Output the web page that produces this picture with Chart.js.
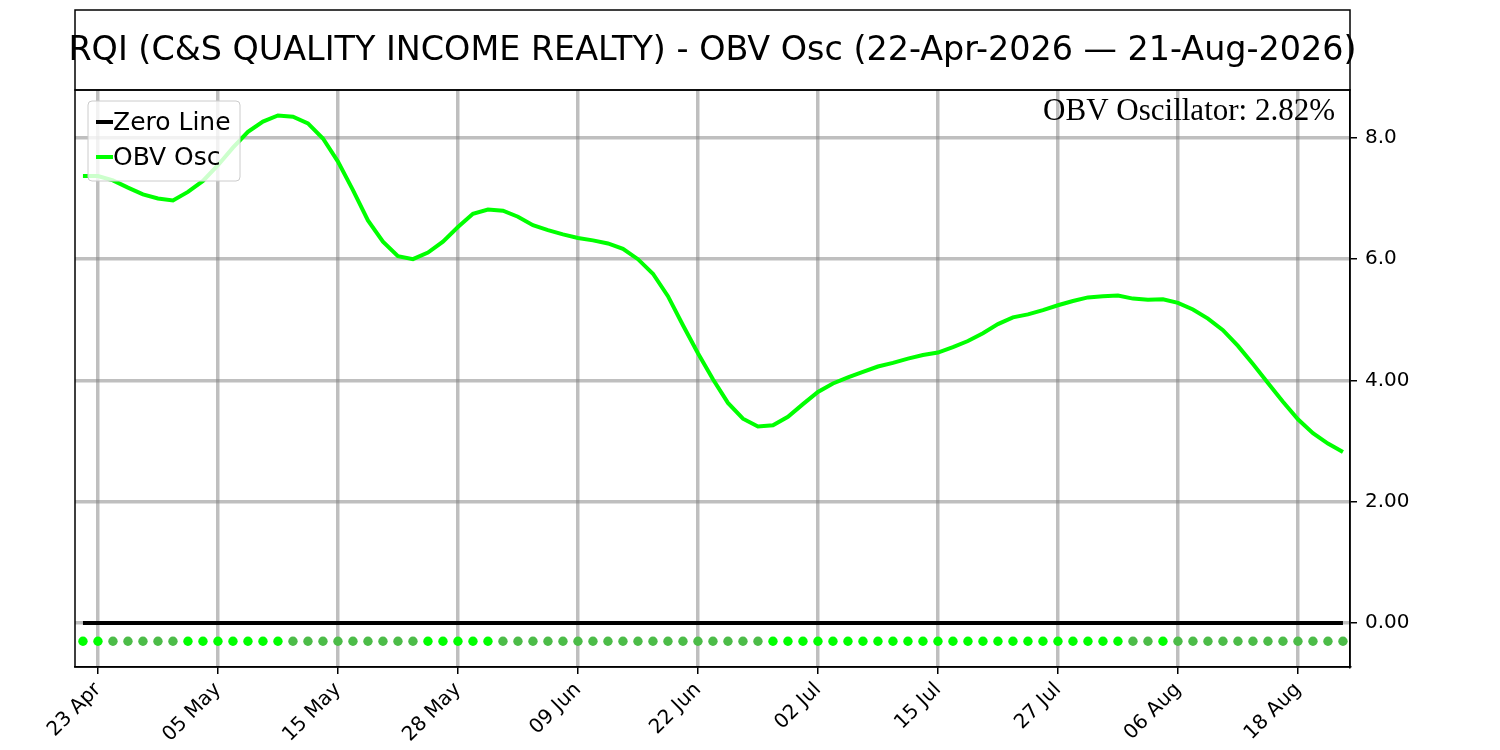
<!DOCTYPE html>
<html lang="en">
<head>
<meta charset="UTF-8">
<title>RQI OBV Osc</title>
<script src="https://cdn.jsdelivr.net/npm/chart.js@4.4.2/dist/chart.umd.min.js"></script>
<style>
    html, body { margin: 0; padding: 0; background: #ffffff; }
    #wrap { width: 1500px; height: 750px; }
</style>
</head>
<body>
<div id="wrap"><canvas id="chart" width="1500" height="750"></canvas></div>
<script>
    // trading days, 22-Apr-2026 .. 21-Aug-2026
    const dates = [
        '22 Apr', '23 Apr', '24 Apr', '27 Apr', '28 Apr', '29 Apr', '30 Apr', '01 May', '04 May', '05 May',
        '06 May', '07 May', '08 May', '11 May', '12 May', '13 May', '14 May', '15 May', '18 May', '19 May',
        '20 May', '21 May', '22 May', '26 May', '27 May', '28 May', '29 May', '01 Jun', '02 Jun', '03 Jun',
        '04 Jun', '05 Jun', '08 Jun', '09 Jun', '10 Jun', '11 Jun', '12 Jun', '15 Jun', '16 Jun', '17 Jun',
        '18 Jun', '22 Jun', '23 Jun', '24 Jun', '25 Jun', '26 Jun', '29 Jun', '30 Jun', '01 Jul', '02 Jul',
        '06 Jul', '07 Jul', '08 Jul', '09 Jul', '10 Jul', '13 Jul', '14 Jul', '15 Jul', '16 Jul', '17 Jul',
        '20 Jul', '21 Jul', '22 Jul', '23 Jul', '24 Jul', '27 Jul', '28 Jul', '29 Jul', '30 Jul', '31 Jul',
        '03 Aug', '04 Aug', '05 Aug', '06 Aug', '07 Aug', '10 Aug', '11 Aug', '12 Aug', '13 Aug', '14 Aug',
        '17 Aug', '18 Aug', '19 Aug', '20 Aug', '21 Aug'
    ];

    const obvOsc = [
        7.37, 7.37, 7.30, 7.18, 7.07, 7.00, 6.97, 7.11, 7.29, 7.55,
        7.84, 8.10, 8.27, 8.37, 8.35, 8.24, 7.99, 7.61, 7.14, 6.64,
        6.29, 6.05, 6.00, 6.11, 6.29, 6.53, 6.75, 6.82, 6.80, 6.70,
        6.56, 6.48, 6.41, 6.35, 6.31, 6.26, 6.17, 6.00, 5.76, 5.39,
        4.91, 4.45, 4.02, 3.63, 3.37, 3.24, 3.26, 3.40, 3.61, 3.81,
        3.95, 4.05, 4.14, 4.23, 4.29, 4.36, 4.42, 4.46, 4.55, 4.65,
        4.78, 4.93, 5.04, 5.09, 5.16, 5.24, 5.31, 5.37, 5.39, 5.40,
        5.35, 5.33, 5.34, 5.28, 5.17, 5.02, 4.83, 4.57, 4.27, 3.96,
        3.65, 3.36, 3.13, 2.96, 2.82
    ];

    // 1 = rising (bright dot), 0 = falling (dull dot)
    const rising = [
        1, 1, 0, 0, 0, 0, 0, 1, 1, 1,
        1, 1, 1, 1, 0, 0, 0, 0, 0, 0,
        0, 0, 0, 1, 1, 1, 1, 1, 0, 0,
        0, 0, 0, 0, 0, 0, 0, 0, 0, 0,
        0, 0, 0, 0, 0, 0, 1, 1, 1, 1,
        1, 1, 1, 1, 1, 1, 1, 1, 1, 1,
        1, 1, 1, 1, 1, 1, 1, 1, 1, 1,
        0, 0, 1, 0, 0, 0, 0, 0, 0, 0,
        0, 0, 0, 0, 0
    ];

    const yTickValues = [0, 2, 4, 6, 8];
    const yTickLabels = ['0.00', '2.00', '4.00', '6.0', '8.0'];

    const titleText = 'RQI (C&S QUALITY INCOME REALTY) - OBV Osc (22-Apr-2026 \u2014 21-Aug-2026)';
    const noteText = 'OBV Oscillator: ' + obvOsc[obvOsc.length - 1].toFixed(2) + '%';
    const dotLevel = -0.3;
    const tickEvery = 8;

    const xTicks = dates.map((d, i) => i).filter(i => (i - 1) % tickEvery === 0);

    const gridColor = 'rgba(128,128,128,0.5)';
    const green = '#00ff00';
    const dullGreen = '#4cbc48';

    const decorPlugin = {
        id: 'decor',
        beforeDraw(chart) {
            const ctx = chart.ctx;
            ctx.save();
            ctx.fillStyle = '#ffffff';
            ctx.fillRect(0, 0, chart.width, chart.height);
            ctx.restore();
        },
        afterDatasetsDraw(chart) {
            // legend box, upper left
            const ctx = chart.ctx;
            const a = chart.chartArea;
            const bx = a.left + 13, by = a.top + 11;
            ctx.save();
            ctx.beginPath();
            ctx.roundRect(bx, by, 152, 80, 4);
            ctx.fillStyle = 'rgba(255,255,255,0.8)';
            ctx.fill();
            ctx.strokeStyle = '#cccccc';
            ctx.lineWidth = 1;
            ctx.stroke();
            ctx.font = '25px "DejaVu Sans"';
            ctx.textBaseline = 'middle';
            ctx.textAlign = 'left';
            const items = chart.data.datasets.filter(d => d.inLegend);
            items.forEach((d, k) => {
                const y = by + 21 + k * 35;
                ctx.beginPath();
                ctx.moveTo(bx + 8, y);
                ctx.lineTo(bx + 25, y);
                ctx.strokeStyle = d.borderColor;
                ctx.lineWidth = 4;
                ctx.stroke();
                ctx.fillStyle = '#000000';
                ctx.fillText(d.label, bx + 25, y + 1);
            });
            ctx.restore();
        },
        afterDraw(chart) {
            const ctx = chart.ctx;
            const a = chart.chartArea;
            ctx.save();
            ctx.strokeStyle = '#000000';
            ctx.lineWidth = 1.5;
            ctx.strokeRect(a.left, a.top, a.right - a.left, a.bottom - a.top);
            ctx.strokeRect(a.left, 10, a.right - a.left, a.top - 10);
            ctx.fillStyle = '#000000';
            ctx.font = '33.4px "DejaVu Sans"';
            ctx.textAlign = 'center';
            ctx.textBaseline = 'middle';
            ctx.fillText(titleText, (a.left + a.right) / 2, (10 + a.top) / 2 + 1);
            ctx.font = '31px "Liberation Serif"';
            ctx.textAlign = 'right';
            ctx.fillText(noteText, a.right - 15, a.top + 22);
            ctx.restore();
        }
    };

    const ctx = document.getElementById('chart').getContext('2d');
    new Chart(ctx, {
        type: 'line',
        data: {
            datasets: [
                {
                    label: 'Zero Line',
                    inLegend: true,
                    data: obvOsc.map((v, i) => ({ x: i, y: 0 })),
                    borderColor: '#000000',
                    borderWidth: 4,
                    pointRadius: 0
                },
                {
                    label: 'OBV Osc',
                    inLegend: true,
                    data: obvOsc.map((v, i) => ({ x: i, y: v })),
                    borderColor: green,
                    borderWidth: 4,
                    pointRadius: 0,
                    tension: 0
                },
                {
                    label: 'state',
                    inLegend: false,
                    data: rising.map((r, i) => ({ x: i, y: dotLevel })),
                    showLine: false,
                    pointRadius: 4.7,
                    pointBorderWidth: 0,
                    pointBackgroundColor: rising.map(r => r ? green : dullGreen)
                }
            ]
        },
        options: {
            responsive: false,
            animation: false,
            devicePixelRatio: 1,
            layout: { padding: { left: 75, top: 90, right: 0, bottom: 0 } },
            plugins: {
                legend: { display: false },
                tooltip: { enabled: false },
                title: { display: false }
            },
            scales: {
                x: {
                    type: 'linear',
                    min: -0.53,
                    max: 84.47,
                    afterBuildTicks: axis => { axis.ticks = xTicks.map(v => ({ value: v })); },
                    afterFit: axis => { axis.height = 83; },
                    ticks: {
                        autoSkip: false,
                        minRotation: 45,
                        maxRotation: 45,
                        padding: 4,
                        color: '#000000',
                        font: { family: 'DejaVu Sans', size: 20 },
                        callback: v => dates[v]
                    },
                    grid: { color: gridColor, lineWidth: 3.5, tickColor: '#000000', tickLength: 7, tickWidth: 1.5 },
                    border: { display: true, color: '#000000', width: 1.5 }
                },
                y: {
                    type: 'linear',
                    position: 'right',
                    min: -0.725,
                    max: 8.79,
                    afterBuildTicks: axis => { axis.ticks = yTickValues.map(v => ({ value: v })); },
                    afterFit: axis => { axis.width = 150; },
                    ticks: {
                        padding: 8,
                        color: '#000000',
                        font: { family: 'DejaVu Sans', size: 20 },
                        callback: (v, i) => yTickLabels[i]
                    },
                    grid: { color: gridColor, lineWidth: 3.5, tickColor: '#000000', tickLength: 7, tickWidth: 1.5 },
                    border: { display: true, color: '#000000', width: 1.5 }
                }
            }
        },
        plugins: [decorPlugin]
    });
</script>
</body>
</html>
